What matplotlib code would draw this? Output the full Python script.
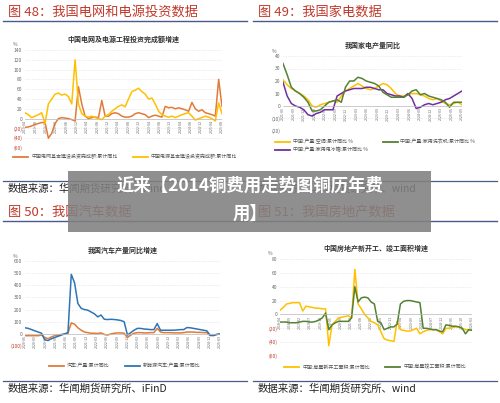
import matplotlib
matplotlib.use("Agg")
import matplotlib.pyplot as plt
from matplotlib.patches import Rectangle
from matplotlib.lines import Line2D

plt.rcParams['font.family'] = ['Noto Sans CJK SC', 'DejaVu Sans']

W, H = 500, 403
fig = plt.figure(figsize=(5, 4.03), dpi=100)

# ---------------- data ----------------
p1_titles = ["图 48：我国电网和电源投资数据", "中国电网及电源工程投资完成额增速"]
p1_grid = [-18,-17,-15,-12,-10,-8,-8,-40,-30,-10,0,2,1,0,-2,-5,65,30,5,0,2,3,2,37,5,5,10,12,10,5,
           3,3,5,10,12,10,8,2,5,7,5,3,25,22,23,20,22,20,18,15,33,20,15,18,12,10,8,5,80,25]
p1_power = [12,8,2,5,8,12,-10,30,40,50,52,48,50,45,30,120,30,10,5,3,5,2,0,-2,5,8,15,20,25,28,
            24,40,55,58,62,55,50,40,42,30,15,8,5,3,5,2,5,8,10,12,5,-3,0,2,5,3,0,-5,32,10]
p1_labels = ["2019-04","2019-08","2019-12","2020-04","2020-08","2020-12","2021-04","2021-08","2021-12",
             "2022-04","2022-08","2022-12","2023-04","2023-08","2023-12","2024-04","2024-08","2024-12",
             "2025-04","2025-08"]
p1_legend = ["中国电网基本建设投资完成额:累计同比", "中国电源基本建设投资完成额:累计同比"]

p2_titles = ["图 49：我国家电数据", "我国家电产量同比"]
p2_ac = [21,17,14,12,10,8,5,0,-1,1,2,3,4,3,8,12,14,16,18,16,14,13,14,16,18,17,14,10,8,8,9,10,10,9,8,6,5,6,4,2,1,2,3,1]
p2_fridge = [19,8,2,0,-1,-3,-7,-8,-6,-5,-3,-3,-3,8,10,12,13,14,14,14,15,15,14,13,13,10,9,8,8,7,10,6,-2,-1,1,2,1,2,3,5,6,8,10,12]
p2_washer = [34,25,15,12,10,7,3,-4,-4,-3,0,3,4,5,3,15,20,20,23,22,20,19,18,16,11,9,7,7,7,7,9,12,13,9,10,8,7,6,5,3,-1,3,3,3]
p2_labels = ["2021-06","2021-09","2021-12","2022-03","2022-06","2022-09","2022-12","2023-03","2023-06",
             "2023-09","2023-12","2024-03","2024-06","2024-09","2024-12","2025-03","2025-06","2025-09"]
p2_legend = ["中国:产量:空调:累计同比 %", "中国:产量:家用电冰箱:累计同比 %", "中国:产量:家用洗衣机:累计同比 %"]

p3_titles = ["图 50：我国汽车数据", "我国汽车产量同比增速"]
p3_car = [-15,-15,-15,-15,-15,-10,-30,-40,-25,-15,-10,-5,0,5,90,80,50,30,15,10,5,5,3,8,-5,-10,0,5,8,8,
          5,-30,-10,5,10,10,8,8,10,10,45,15,10,10,10,8,8,8,10,15,15,15,12,12,10,10,-15,-10,-5,0]
p3_nev = [50,45,35,25,15,5,-50,-55,-40,-30,-20,-10,0,10,490,420,250,210,200,195,180,165,140,155,120,118,120,118,115,110,
          100,-10,10,30,45,45,40,38,35,35,85,30,30,30,30,30,32,35,35,52,50,45,40,35,30,25,-10,-15,-5,0]
p3_labels = ["2020-06","2020-09","2020-12","2021-03","2021-06","2021-09","2021-12","2022-03","2022-06","2022-09",
             "2022-12","2023-03","2023-06","2023-09","2023-12","2024-03","2024-06","2024-09","2024-12","2025-03"]
p3_legend = ["汽车:产量:累计同比", "新能源汽车:产量:累计同比"]

p4_titles = ["图 51：我国房地产数据", "中国房地产新开工、竣工面积增速"]
p4_start = [6,10,15,16,17,17,17,5,12,11,10,9,9,8,8,-45,-15,-10,-5,-4,-3,-2,-5,65,15,8,0,-5,-10,-12,
            -15,-25,-35,-37,-38,-39,-10,-22,-23,-24,-24,-22,-20,-28,-25,-23,-22,-22,-22,-25,-28,-20,-20,-19,-18,-18,-20,-22,-22,-23]
p4_done = [-11,-11,-11,-12,-12,-12,-11,-10,-10,-11,-11,-10,-8,-5,2,-22,-15,-12,-10,-10,-10,-10,-5,40,18,24,25,24,18,15,
           -10,-12,-22,-20,-18,-18,-14,15,19,20,20,19,18,17,-20,-20,-21,-22,-22,-24,-25,-15,-16,-17,-17,-18,-20,-28,-22,-23]
p4_labels = ["2018-04","2018-09","2019-02","2019-07","2019-12","2020-05","2020-10","2021-03","2021-08","2022-01",
             "2022-06","2022-11","2023-04","2023-09","2024-02","2024-07","2024-12","2025-05","2025-10","2026-03"]
p4_legend = ["中国:房屋新开工面积:累计同比", "中国:房屋竣工面积:累计同比"]

sources = ["数据来源：华闻期货研究所、wind", "数据来源：华闻期货研究所、wind",
           "数据来源：华闻期货研究所、iFinD", "数据来源：华闻期货研究所、wind"]

RED = "#c0392b"
LINE = "#4a5a8a"
ORANGE = "#e07b39"
YELLOW = "#ffc000"
PURPLE = "#7030a0"
GREEN = "#548235"
BLUE = "#2e75b6"


def px_axes(x0, y0, x1, y1):
    return fig.add_axes([x0 / W, 1 - y1 / H, (x1 - x0) / W, (y1 - y0) / H])


def ftxt(x, y, s, **kw):
    fig.text(x / W, 1 - y / H, s, **kw)


def hline(x0, x1, y, lw=1.0, color=LINE):
    fig.add_artist(Line2D([x0 / W, x1 / W], [1 - y / H, 1 - y / H], color=color, lw=lw))


def fmt(v):
    return f"({abs(v)})" if v < 0 else str(v)


def panel(ox, oy, titles, series, colors, labels, legend, yt, ax_box, leg_y, leg_cols, source, neg_red=True):
    ftxt(ox + 8, oy + 12, titles[0], color=RED, fontsize=9.5, va="center")
    hline(ox + 3, ox + 247, oy + 21)
    ax = px_axes(ox + ax_box[0], oy + ax_box[1], ox + ax_box[2], oy + ax_box[3])
    for sp in ["top", "right", "left", "bottom"]:
        ax.spines[sp].set_visible(False)
    ax.spines["bottom"].set_position(("data", 0))
    for s, c in zip(series, colors):
        ax.plot(range(len(s)), s, color=c, lw=1.1)
    n = len(series[0])
    ax.set_xlim(0, n - 1)
    ax.set_ylim(yt[0], yt[-1])
    ax.set_yticks(yt)
    ax.set_yticklabels([fmt(v) for v in yt], fontsize=3.5)
    for lab, v in zip(ax.get_yticklabels(), yt):
        lab.set_color(RED if (v < 0 and neg_red) else "#666666")
    ax.yaxis.grid(True, color="#dddddd", lw=0.4, ls=(0, (2, 2)))
    ax.axhline(0, color="#bbbbbb", lw=0.5)
    step = (n - 1) / (len(labels) - 1)
    ax.set_xticks([i * step for i in range(len(labels))])
    ax.set_xticklabels(labels, rotation=90, fontsize=2.6, color="#666666")
    ax.tick_params(axis="x", length=0, pad=1)
    ax.tick_params(axis="y", length=0, pad=2)
    ax.set_facecolor("none")
    ax.text(-0.04, 1.04, "%", transform=ax.transAxes, fontsize=3.5, color="#666666", ha="right")
    ax.set_title(titles[1], fontsize=5, fontweight="bold", color="#333333", pad=6)
    handles = [Line2D([], [], color=c, lw=1.3) for c in colors]
    fig.legend(handles, legend, loc="center", bbox_to_anchor=((ox + 125) / W, 1 - (oy + leg_y) / H),
               ncol=leg_cols, fontsize=3.6, frameon=False, handlelength=3, columnspacing=3,
               labelcolor="#555555", handletextpad=0.6)
    hline(ox + 3, ox + 247, oy + 181, lw=0.9)
    ftxt(ox + 8, oy + 189, source, fontsize=7.5, color="#222222", va="center")


panel(0, 0, p1_titles, [p1_grid, p1_power], [ORANGE, YELLOW], p1_labels, p1_legend,
      [-60, -40, -20, 0, 20, 40, 60, 80, 100, 120, 140], (25, 50, 222, 148), 157, 2, sources[0])
panel(250, 0, p2_titles, [p2_ac, p2_fridge, p2_washer], [YELLOW, PURPLE, GREEN], p2_labels, p2_legend,
      [-20, -10, 0, 10, 20, 30, 40], (33, 56, 212, 131), 146, 2, sources[1], neg_red=False)
panel(0, 200, p3_titles, [p3_car, p3_nev], [ORANGE, BLUE], p3_labels, p3_legend,
      [-100, 0, 100, 200, 300, 400, 500, 600], (25, 61, 220, 146), 166, 2, sources[2])
panel(250, 200, p4_titles, [p4_start, p4_done], [YELLOW, GREEN], p4_labels, p4_legend,
      [-60, -40, -20, 0, 20, 40, 60, 80], (30, 59, 222, 156), 167, 2, sources[3])

# overlay banner
fig.add_artist(Rectangle((68 / W, 1 - 232 / H), (431 - 68) / W, (232 - 171) / H,
                         transform=fig.transFigure, facecolor=(0.5, 0.5, 0.5, 0.88), edgecolor="none", zorder=10))
ftxt(250, 186, "近来【2014铜费用走势图铜历年费", fontsize=12.5, color="white", fontweight="bold",
     ha="center", va="center", zorder=11)
ftxt(250, 214, "用】", fontsize=12.5, color="white", fontweight="bold", ha="center", va="center", zorder=11)

fig.savefig("out.png", dpi=100, facecolor="white")
